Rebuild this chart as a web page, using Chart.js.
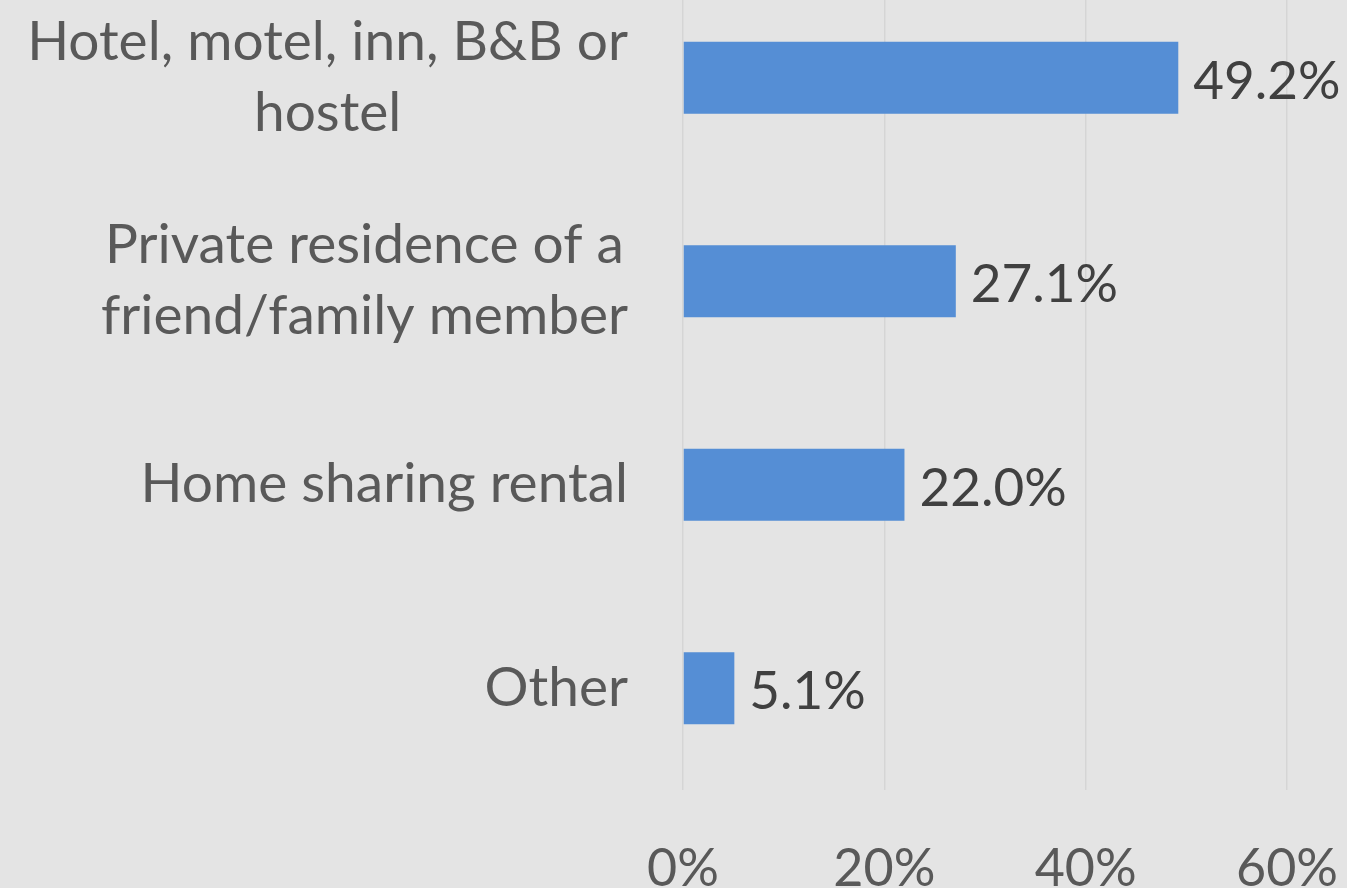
<!DOCTYPE html>
<html>
<head>
<meta charset="utf-8">
<script src="https://cdn.jsdelivr.net/npm/chart.js@4"></script>
<style>
  html, body { margin: 0; padding: 0; background: #e4e4e4; overflow: hidden; }
  #wrap { width: 1347px; height: 888px; overflow: hidden; position: relative; }
  #myChart { position: absolute; left: 0; top: -24px; }
</style>
</head>
<body>
<div id="wrap"><canvas id="myChart" width="1347" height="912"></canvas></div>
<script>
// data
const categories = [
  ['Hotel, motel, inn, B&B or', 'hostel'],
  ['Private residence of a', 'friend/family member'],
  ['Home sharing rental'],
  ['Other']
];
const shares = [49.2, 27.1, 22.0, 5.1];
const tickValues = [0, 20, 40, 60];

const FONT = 'Lato, "Open Sans", sans-serif';

// category labels: block right-aligned, lines centered inside the block (Excel style)
const catLabels = {
  id: 'catLabels',
  afterDraw(chart) {
    const ctx = chart.ctx;
    const y = chart.scales.y;
    ctx.save();
    ctx.font = '55px ' + FONT;
    ctx.fillStyle = '#595959';
    ctx.textAlign = 'center';
    ctx.textBaseline = 'middle';
    const rightEdge = y.right - 55;
    const lineH = 71;
    categories.forEach((lines, i) => {
      const widest = Math.max(...lines.map(l => ctx.measureText(l).width));
      const cx = rightEdge - widest / 2;
      const cy = y.getPixelForTick(i);
      lines.forEach((l, k) => {
        ctx.fillText(l, cx, cy + (k - (lines.length - 1) / 2) * lineH);
      });
    });
    ctx.restore();
  }
};

// value labels at the end of each bar
const valueLabels = {
  id: 'valueLabels',
  afterDatasetsDraw(chart) {
    const ctx = chart.ctx;
    const meta = chart.getDatasetMeta(0);
    ctx.save();
    ctx.font = '53px ' + FONT;
    ctx.fillStyle = '#404040';
    ctx.textAlign = 'left';
    ctx.textBaseline = 'middle';
    meta.data.forEach((bar, i) => {
      ctx.fillText(shares[i].toFixed(1) + '%', bar.x + 15, bar.y + 4);
    });
    ctx.restore();
  }
};

const ctx = document.getElementById('myChart').getContext('2d');
const myChart = new Chart(ctx, {
  type: 'bar',
  data: {
    labels: categories.map(c => c.join(' ')),
    datasets: [{
      data: shares,
      backgroundColor: '#558ed5',
      borderWidth: 0,
      categoryPercentage: 1,
      barPercentage: 0.355
    }]
  },
  options: {
    indexAxis: 'y',
    responsive: false,
    animation: false,
    layout: { padding: { left: 0, right: 60, top: 0, bottom: 0 } },
    plugins: {
      legend: { display: false },
      tooltip: { enabled: false }
    },
    scales: {
      x: {
        min: 0,
        max: 60,
        afterBuildTicks: (scale) => { scale.ticks = tickValues.map(v => ({ value: v })); },
        afterFit: (scale) => {
          scale.height = 98;
          scale.paddingLeft = 0;
          scale.paddingRight = 0;
        },
        border: { display: false },
        grid: { color: '#d5d5d5', lineWidth: 1.5, drawTicks: false },
        ticks: {
          padding: 48,
          color: '#595959',
          font: { family: FONT, size: 52 },
          callback: (v) => v + '%'
        }
      },
      y: {
        afterFit: (scale) => { scale.width = 683; },
        border: { display: false },
        grid: { display: false },
        ticks: { display: false }
      }
    }
  },
  plugins: [catLabels, valueLabels]
});
</script>
</body>
</html>
